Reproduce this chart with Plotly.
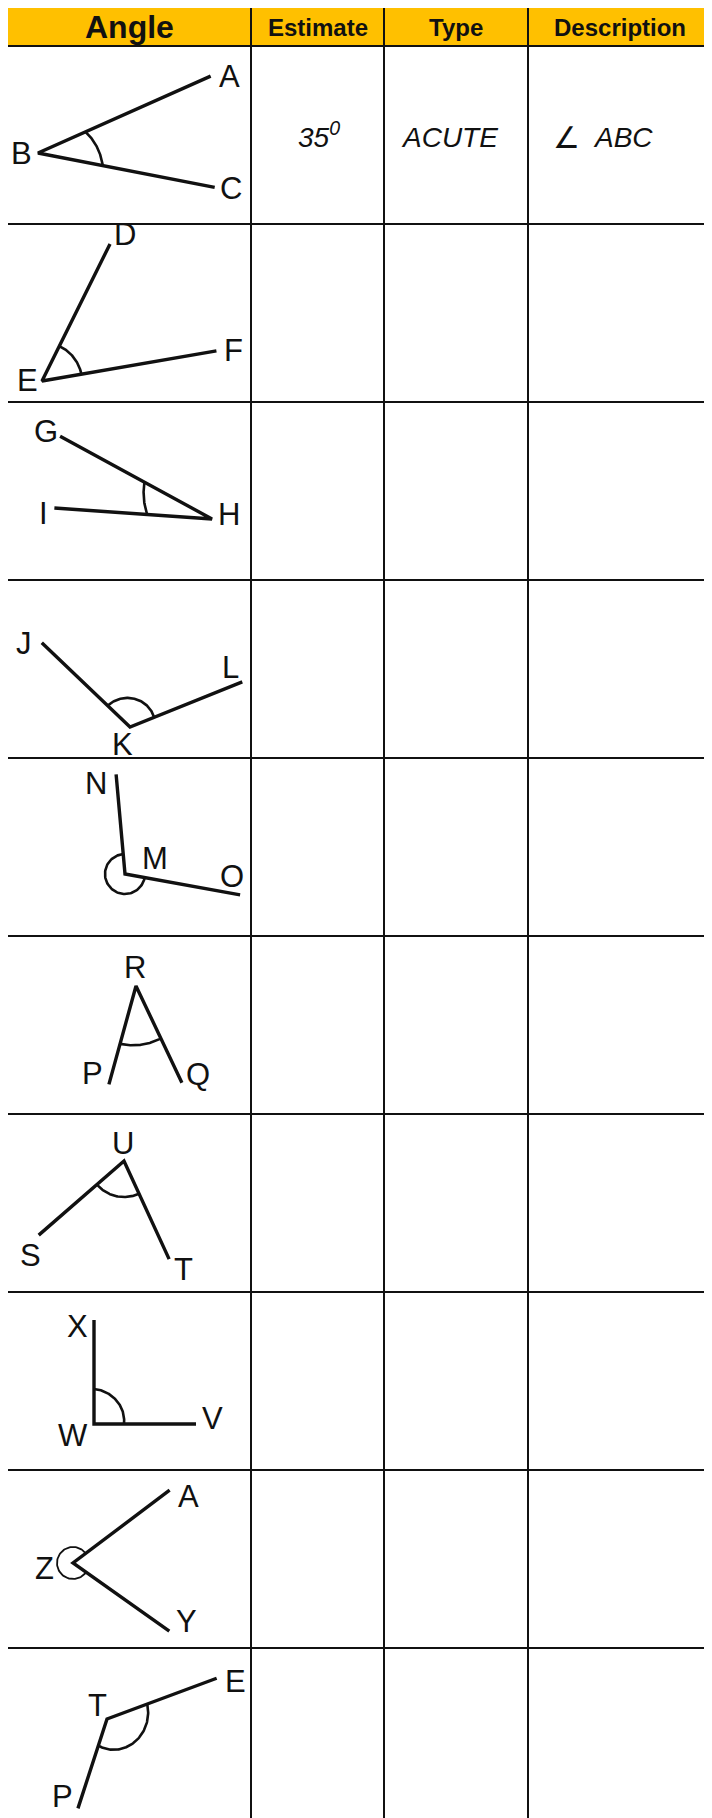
import numpy as np
import plotly.graph_objects as go

# ---- table content ----
HEADERS = ["Angle", "Estimate", "Type", "Description"]
ESTIMATES = ["35<sup>0</sup>", "", "", "", "", "", "", "", "", ""]
TYPES = ["ACUTE", "", "", "", "", "", "", "", "", ""]
DESCRIPTIONS = ["ABC", "", "", "", "", "", "", "", "", ""]

# ---- angle drawings ----
VERTEX = ["B", "E", "H", "K", "M", "R", "U", "W", "Z", "T"]
ARM1_END = ["A", "D", "G", "J", "N", "P", "S", "X", "A", "E"]
ARM2_END = ["C", "F", "I", "L", "O", "Q", "T", "V", "Y", "P"]
# arm direction in degrees (counter-clockwise from east) and arm length
ARM1_DEG = [24.0, 63.6, 151.4, 136.3, 95.1, -105.4, -139.0, 90.0, 37.0, 20.4]
ARM2_DEG = [-11.0, 9.8, 176.0, 21.9, -10.3, -64.6, -65.3, 0.0, -35.3, -108.0]
ARM1_LEN = [189, 153, 173, 122, 100, 102, 113, 104, 121, 117]
ARM2_LEN = [180, 177, 158, 121, 117, 107, 108, 102, 118, 94]
# angle mark: radius where it meets arm 1 / arm 2, reflex or not
ARC_R1 = [52, 39, 77, 31, 20, 60, 36, 35, 16, 43]
ARC_R2 = [66, 40, 65, 26, 20, 58, 36, 30, 16, 28]
REFLEX = [False, False, False, False, True, False, False, False, True, False]

# ---- layout (page pixels) ----
PAGE_W, PAGE_H = 712, 1818
BODY_MARGIN = 8  # html body margin, the figure starts 8px in
COL_EDGES = [7, 251, 384, 528, 712]
HEADER_TOP, HEADER_BOTTOM = 6, 46
ROW_H = 178
HEADER_FILL = "#FFC000"
INK = "#111111"
FONT = "Liberation Sans, Arial, sans-serif"

# vertex position inside its cell (x from page left, y from row top)
VERTEX_XY = [(38, 107), (42, 157), (212, 117), (130, 147), (125, 116),
             (136, 50), (124, 47), (94, 132), (73, 93), (107, 71)]
# label offsets: (arm1 end, vertex, arm2 end)
LABEL_OFF = [
    ((19, 0), (-17, 0), (16, 1)),
    ((15, -9), (-15, -1), (17, 0)),
    ((-14, -5), (17, -5), (-11, 6)),
    ((-18, 1), (-8, 17), (-12, -14)),
    ((-20, 9), (30, -16), (-8, -18)),
    ((-16, -11), (-1, -19), (16, -8)),
    ((-8, 20), (-1, -18), (14, 10)),
    ((-17, 6), (-21, 11), (16, -6)),
    ((19, 6), (-29, 5), (17, -10)),
    ((19, 3), (-10, -14), (-15, -12)),
]

fig = go.Figure()
annotations = []
shapes = []

# header band and grid
shapes.append(dict(type="rect", x0=COL_EDGES[0], x1=PAGE_W + 10, y0=HEADER_TOP, y1=HEADER_BOTTOM,
                   fillcolor=HEADER_FILL, line=dict(width=0), layer="below"))
n_rows = len(VERTEX)
h_lines = [HEADER_TOP] + [HEADER_BOTTOM + i * ROW_H for i in range(n_rows + 1)]
for y in h_lines:
    shapes.append(dict(type="line", x0=COL_EDGES[0], x1=PAGE_W + 10, y0=y, y1=y,
                       line=dict(color=INK, width=2)))
for x in COL_EDGES[:-1]:
    shapes.append(dict(type="line", x0=x, x1=x, y0=HEADER_TOP, y1=PAGE_H + 20,
                       line=dict(color=INK, width=2)))

header_sizes = [32, 24, 24, 24]
for i, h in enumerate(HEADERS):
    annotations.append(dict(x=(COL_EDGES[i] + COL_EDGES[i + 1]) / 2, y=(HEADER_TOP + HEADER_BOTTOM) / 2 + 1,
                            text="<b>%s</b>" % h, showarrow=False,
                            font=dict(family=FONT, size=header_sizes[i], color=INK)))


def arm_end(vx, vy, deg, length):
    a = np.radians(deg)
    return vx + length * np.cos(a), vy - length * np.sin(a)


for i in range(n_rows):
    top = HEADER_BOTTOM + i * ROW_H
    vx, vy = VERTEX_XY[i][0], top + VERTEX_XY[i][1]
    x1, y1 = arm_end(vx, vy, ARM1_DEG[i], ARM1_LEN[i])
    x2, y2 = arm_end(vx, vy, ARM2_DEG[i], ARM2_LEN[i])
    fig.add_trace(go.Scatter(x=[x1, vx, x2], y=[y1, vy, y2], mode="lines",
                             line=dict(color=INK, width=3.4), hoverinfo="skip"))

    # angle mark
    d = (ARM2_DEG[i] - ARM1_DEG[i] + 180) % 360 - 180
    if REFLEX[i]:
        d = d - 360 * np.sign(d)
    t = np.linspace(0, 1, 80)
    th = np.radians(ARM1_DEG[i] + d * t)
    r = ARC_R1[i] + (ARC_R2[i] - ARC_R1[i]) * t
    fig.add_trace(go.Scatter(x=vx + r * np.cos(th), y=vy - r * np.sin(th), mode="lines",
                             line=dict(color=INK, width=1.8 if REFLEX[i] and ARC_R1[i] < 18 else 2.6),
                             hoverinfo="skip"))

    offs = LABEL_OFF[i]
    for (px, py), (ox, oy), txt in zip([(x1, y1), (vx, vy), (x2, y2)], offs,
                                       [ARM1_END[i], VERTEX[i], ARM2_END[i]]):
        annotations.append(dict(x=px + ox, y=py + oy, text=txt, showarrow=False,
                                font=dict(family=FONT, size=31, color=INK)))

    cy = top + ROW_H / 2
    if ESTIMATES[i]:
        annotations.append(dict(x=(COL_EDGES[1] + COL_EDGES[2]) / 2 + 1, y=cy, text="<i>%s</i>" % ESTIMATES[i],
                                showarrow=False, font=dict(family=FONT, size=28, color=INK)))
    if TYPES[i]:
        annotations.append(dict(x=(COL_EDGES[2] + COL_EDGES[3]) / 2 - 7, y=cy + 2, text="<i>%s</i>" % TYPES[i],
                                showarrow=False, font=dict(family=FONT, size=28, color=INK)))
    if DESCRIPTIONS[i]:
        annotations.append(dict(x=COL_EDGES[3] + 38, y=cy + 2, text="∠",
                                showarrow=False, font=dict(family=FONT, size=30, color=INK)))
        annotations.append(dict(x=COL_EDGES[3] + 63, y=cy + 2, xanchor="left",
                                text="<i>%s</i>" % DESCRIPTIONS[i],
                                showarrow=False, font=dict(family=FONT, size=28, color=INK)))

fig.update_layout(
    width=PAGE_W, height=PAGE_H,
    margin=dict(l=0, r=0, t=0, b=0),
    paper_bgcolor="white", plot_bgcolor="white",
    showlegend=False,
    xaxis=dict(range=[BODY_MARGIN, PAGE_W + BODY_MARGIN], visible=False, fixedrange=True),
    yaxis=dict(range=[PAGE_H + BODY_MARGIN, BODY_MARGIN], visible=False, fixedrange=True),
    shapes=shapes, annotations=annotations,
)
fig.write_html("out.html")
